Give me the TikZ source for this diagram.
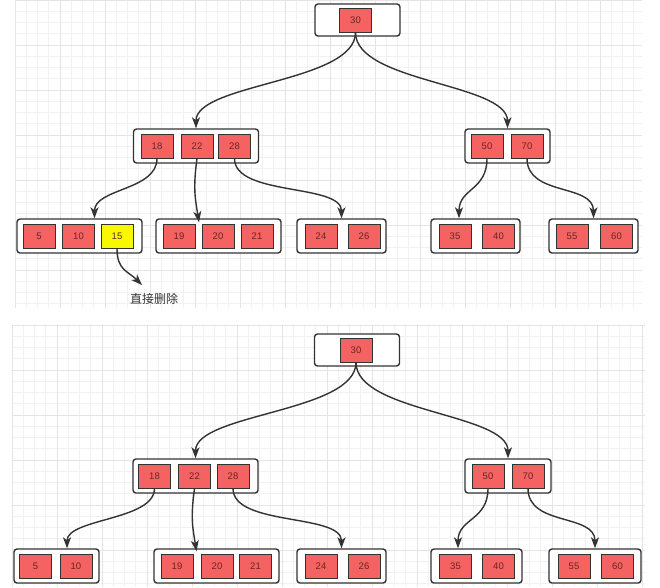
\documentclass[tikz,border=0pt]{standalone}
\usepackage{fontspec}
\setmainfont{Liberation Sans}
\newfontfamily\cjk{Noto Sans CJK SC}
\usetikzlibrary{arrows.meta,calc}
\definecolor{keyred}{HTML}{F46262}
\definecolor{keyyellow}{HTML}{F8F800}
\definecolor{keytext}{HTML}{6A2424}
\definecolor{edgegray}{HTML}{333333}
\definecolor{gridminor}{HTML}{F1F1F1}
\definecolor{gridmajor}{HTML}{E4E4E4}
\begin{document}
\begin{tikzpicture}[x=1pt,y=-1pt,
  outerbox/.style={draw=edgegray, line width=1.4pt, rounded corners=3pt, fill=white, minimum height=34pt, inner sep=0pt},
  outer3/.style={outerbox, minimum width=125pt},
  outer2/.style={outerbox, minimum width=89pt},
  rootbox/.style={outerbox, minimum width=85pt, minimum height=32pt},
  keybox/.style={draw=edgegray, line width=0.9pt, fill=keyred, minimum width=32pt, minimum height=24pt, inner sep=0pt, text=keytext, font=\fontsize{9.5}{10}\selectfont},
  hotkey/.style={keybox, fill=keyyellow},
  link/.style={draw=edgegray, line width=1.4pt, -{Stealth[length=11pt,width=8pt,inset=3pt]}},
  minorline/.style={draw=gridminor, line width=0.6pt},
  majorline/.style={draw=gridmajor, line width=0.8pt}
]
\useasboundingbox (0,0) rectangle (660,587);
\fill[white] (0,0) rectangle (660,587);
% grids
\begin{scope}
  \clip (15,0) rectangle (642,308);
  \foreach \x in {15,26.25,...,660} \draw[minorline] (\x,0) -- (\x,308);
  \foreach \y in {0,11.25,...,320} \draw[minorline] (15,\y) -- (642,\y);
  \foreach \x in {15,60,...,660} \draw[majorline] (\x,0) -- (\x,308);
  \foreach \y in {0,45,...,320} \draw[majorline] (15,\y) -- (642,\y);
\end{scope}
\begin{scope}
  \clip (12,325) rectangle (645,587);
  \foreach \x in {12,23.25,...,660} \draw[minorline] (\x,325) -- (\x,587);
  \foreach \y in {325,336.25,...,590} \draw[minorline] (12,\y) -- (645,\y);
  \foreach \x in {12,57,...,660} \draw[majorline] (\x,325) -- (\x,587);
  \foreach \y in {325,370,...,590} \draw[majorline] (12,\y) -- (645,\y);
\end{scope}

% ---------- top tree ----------
\node[rootbox] (r1) at (357.5,20) {};
\node[keybox] (a30) at (355.5,20) {30};
\node[outer3] (m1) at (196,146) {};
\node[keybox] (a18) at (157,146) {18};
\node[keybox] (a22) at (197,146) {22};
\node[keybox] (a28) at (234.5,146) {28};
\node[outerbox, minimum width=85pt] (n1) at (507.5,146) {};
\node[keybox] (a50) at (487,146) {50};
\node[keybox] (a70) at (527,146) {70};
\node[outer3] (p1) at (79.5,236) {};
\node[keybox] (a5) at (39,236) {5};
\node[keybox] (a10) at (78.5,236) {10};
\node[hotkey] (a15) at (117,236) {15};
\node[outer3] (p2) at (218.5,236) {};
\node[keybox] (a19) at (179,236) {19};
\node[keybox] (a20) at (218,236) {20};
\node[keybox] (a21) at (257,236) {21};
\node[outer2] (p3) at (341.5,236) {};
\node[keybox] (a24) at (321,236) {24};
\node[keybox] (a26) at (364,236) {26};
\node[outer2] (p4) at (475.5,236) {};
\node[keybox] (a35) at (455,236) {35};
\node[keybox] (a40) at (498.5,236) {40};
\node[outer2] (p5) at (593.5,236) {};
\node[keybox] (a55) at (572,236) {55};
\node[keybox] (a60) at (616.5,236) {60};
\node[font=\cjk\fontsize{12}{12}\selectfont, text=edgegray] (lbl) at (154,299) {直接删除};
\coordinate (tipA) at (142,285);

\draw[link] (a30.south) .. controls +(0,50) and +(0,-45) .. (m1.north);
\draw[link] (a30.south) .. controls +(0,50) and +(0,-45) .. (n1.north);
\draw[link] (a18.south) .. controls +(0,32) and +(0,-30) .. ($(p1.north)+(15,0)$);
\draw[link] (a22.south) .. controls +(-4,30) and +(-4,-25) .. ($(a22.south |- p2.north)+(2,4)$);
\draw[link] (a28.south) .. controls +(0,38) and +(0,-35) .. (p3.north);
\draw[link] (a50.south) .. controls +(0,32) and +(0,-30) .. ($(p4.north)+(-16.5,0)$);
\draw[link] (a70.south) .. controls +(0,38) and +(0,-35) .. (p5.north);
\draw[link] (a15.south) .. controls +(0,22) and +(-14,-14) .. (tipA);

% ---------- bottom tree ----------
\node[rootbox] (r2) at (357,350) {};
\node[keybox] (b30) at (356,350) {30};
\node[outer3] (m2) at (195.5,476) {};
\node[keybox] (b18) at (154.5,476) {18};
\node[keybox] (b22) at (194.5,476) {22};
\node[keybox] (b28) at (233,476) {28};
\node[outerbox, minimum width=86pt] (n2) at (508,476) {};
\node[keybox] (b50) at (488,476) {50};
\node[keybox] (b70) at (528,476) {70};
\node[outerbox, minimum width=85pt] (q1) at (56.5,566) {};
\node[keybox] (b5) at (35.5,566) {5};
\node[keybox] (b10) at (76,566) {10};
\node[outer3] (q2) at (216.5,566) {};
\node[keybox] (b19) at (177,566) {19};
\node[keybox] (b20) at (217,566) {20};
\node[keybox] (b21) at (255.5,566) {21};
\node[outer2] (q3) at (341.5,566) {};
\node[keybox] (b24) at (321,566) {24};
\node[keybox] (b26) at (364,566) {26};
\node[outerbox, minimum width=91pt] (q4) at (476.5,566) {};
\node[keybox] (b35) at (455.5,566) {35};
\node[keybox] (b40) at (498.5,566) {40};
\node[outerbox, minimum width=92pt] (q5) at (595,566) {};
\node[keybox] (b55) at (574,566) {55};
\node[keybox] (b60) at (617.5,566) {60};

\draw[link] (b30.south) .. controls +(0,50) and +(0,-45) .. (m2.north);
\draw[link] (b30.south) .. controls +(0,50) and +(0,-45) .. (n2.north);
\draw[link] (b18.south) .. controls +(0,32) and +(0,-30) .. ($(q1.north)+(10.5,0)$);
\draw[link] (b22.south) .. controls +(-4,30) and +(-4,-25) .. ($(b22.south |- q2.north)+(2,3)$);
\draw[link] (b28.south) .. controls +(0,38) and +(0,-35) .. (q3.north);
\draw[link] (b50.south) .. controls +(0,32) and +(0,-30) .. ($(q4.north)+(-18.5,0)$);
\draw[link] (b70.south) .. controls +(0,38) and +(0,-35) .. (q5.north);
\end{tikzpicture}
\end{document}
